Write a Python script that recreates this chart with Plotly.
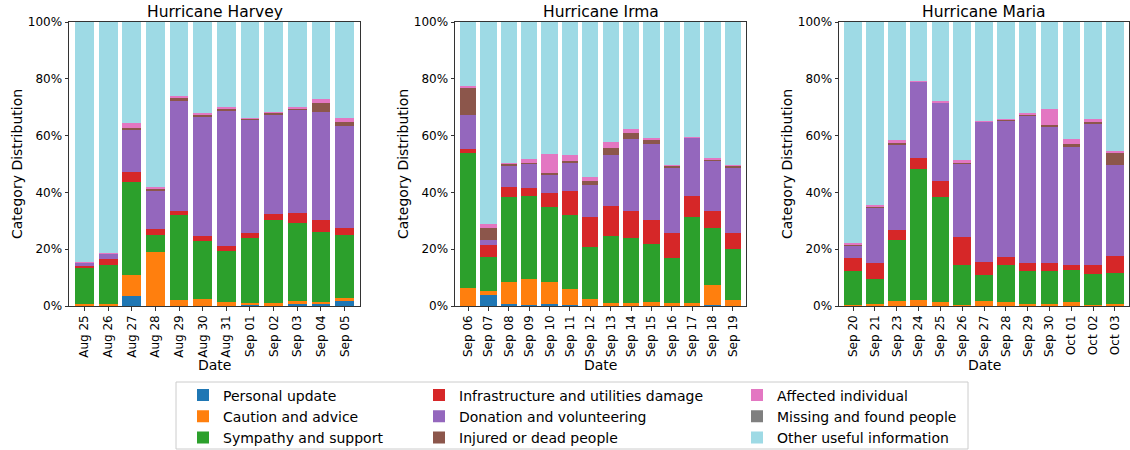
import plotly.graph_objects as go

# ---------------- data (percent of tweets per day) ----------------
categories = [
    "Personal update", "Caution and advice", "Sympathy and support",
    "Infrastructure and utilities damage", "Donation and volunteering",
    "Injured or dead people", "Affected individual",
    "Missing and found people", "Other useful information",
]
colors = ["#1f77b4", "#ff7f0e", "#2ca02c", "#d62728", "#9467bd",
          "#8c564b", "#e377c2", "#7f7f7f", "#9edae5"]

harvey_dates = ["Aug 25", "Aug 26", "Aug 27", "Aug 28", "Aug 29", "Aug 30",
                "Aug 31", "Sep 01", "Sep 02", "Sep 03", "Sep 04", "Sep 05"]
harvey_personal = [0, 0, 3.5, 0, 0, 0, 0, 0.6, 0, 0.7, 0.9, 1.6]
harvey_caution = [0.6, 0.7, 7.3, 19.0, 2.1, 2.4, 1.3, 0.5, 0.9, 0.9, 0.5, 1.1]
harvey_sympathy = [12.8, 13.6, 32.8, 6.0, 29.8, 20.6, 18.0, 22.8, 29.4, 27.5, 24.7, 22.3]
harvey_infra = [0.7, 2.2, 3.6, 2.1, 1.6, 1.6, 1.8, 1.7, 2.0, 3.6, 4.3, 2.4]
harvey_donation = [1.2, 2.0, 14.6, 13.5, 38.8, 42.1, 47.8, 39.9, 35.2, 36.4, 37.9, 35.9]
harvey_injured = [0.0, 0.1, 1.0, 0.7, 0.8, 0.8, 0.5, 0.4, 0.5, 0.5, 3.3, 1.5]
harvey_affected = [0.1, 0.2, 1.6, 0.5, 0.9, 0.6, 0.7, 0.4, 0.4, 0.5, 1.4, 1.5]
harvey_missing = [0, 0, 0, 0, 0, 0, 0, 0, 0, 0, 0, 0]
harvey_other = [84.6, 81.2, 35.6, 58.2, 26.0, 31.9, 29.9, 33.7, 31.6, 29.9, 27.0, 33.7]

irma_dates = ["Sep 06", "Sep 07", "Sep 08", "Sep 09", "Sep 10", "Sep 11", "Sep 12",
              "Sep 13", "Sep 14", "Sep 15", "Sep 16", "Sep 17", "Sep 18", "Sep 19"]
irma_personal = [0, 4.0, 0.8, 0.4, 0.6, 0.2, 0, 0, 0, 0, 0, 0, 0.2, 0]
irma_caution = [6.3, 1.4, 7.5, 9.2, 8.0, 5.9, 2.4, 0.9, 1.2, 1.3, 1.1, 1.1, 7.3, 2.1]
irma_sympathy = [47.7, 11.8, 30.0, 29.1, 26.3, 25.9, 18.5, 23.9, 22.6, 20.6, 15.9, 30.4, 19.9, 18.1]
irma_infra = [1.2, 4.3, 3.6, 3.0, 4.8, 8.6, 10.6, 10.5, 9.6, 8.4, 8.8, 7.1, 6.2, 5.5]
irma_donation = [12.1, 1.8, 7.5, 8.3, 6.6, 9.9, 11.2, 17.9, 25.4, 26.8, 22.8, 20.6, 17.6, 23.0]
irma_injured = [9.6, 4.1, 0.6, 0.5, 0.5, 0.7, 1.2, 2.3, 2.0, 1.4, 0.7, 0.0, 0.5, 0.7]
irma_affected = [0.5, 1.5, 0.5, 1.4, 6.6, 2.0, 1.5, 2.3, 1.5, 0.5, 0.2, 0.2, 0.3, 0.4]
irma_missing = [0, 0, 0, 0, 0, 0, 0, 0, 0, 0, 0, 0, 0, 0]
irma_other = [22.6, 71.1, 49.5, 48.1, 46.6, 46.8, 54.6, 42.2, 37.7, 41.0, 50.5, 40.6, 48.0, 50.2]

maria_dates = ["Sep 20", "Sep 21", "Sep 23", "Sep 24", "Sep 25", "Sep 26", "Sep 27",
               "Sep 28", "Sep 29", "Sep 30", "Oct 01", "Oct 02", "Oct 03"]
maria_personal = [0, 0, 0, 0, 0, 0, 0, 0, 0, 0, 0, 0, 0]
maria_caution = [0.5, 0.8, 1.8, 2.0, 1.5, 0.4, 1.8, 1.4, 0.8, 0.8, 1.3, 0.4, 0.6]
maria_sympathy = [11.9, 8.8, 21.3, 46.2, 36.9, 14.1, 9.2, 13.1, 11.6, 11.5, 11.4, 10.9, 11.1]
maria_infra = [4.6, 5.6, 3.8, 3.9, 5.7, 9.9, 4.6, 2.7, 2.8, 2.7, 1.6, 3.3, 6.0]
maria_donation = [4.2, 19.6, 29.8, 26.9, 27.4, 25.6, 49.3, 48.0, 51.9, 48.1, 41.7, 49.4, 31.9]
maria_injured = [0.4, 0.3, 0.7, 0.1, 0.3, 0.5, 0.1, 0.6, 0.5, 0.5, 1.1, 1.1, 4.5]
maria_affected = [0.7, 0.5, 0.9, 0.3, 0.4, 0.8, 0.1, 0.2, 0.3, 5.7, 1.7, 0.6, 0.6]
maria_missing = [0, 0, 0, 0, 0, 0, 0, 0, 0, 0, 0, 0, 0]
maria_other = [77.7, 64.4, 41.7, 20.6, 27.8, 48.7, 34.9, 34.0, 32.1, 30.7, 41.2, 34.3, 45.3]

panel_titles = ["Hurricane Harvey", "Hurricane Irma", "Hurricane Maria"]
y_ticks = [0, 20, 40, 60, 80, 100]
y_tick_labels = ["0%", "20%", "40%", "60%", "80%", "100%"]

panels = [
    (harvey_dates, [harvey_personal, harvey_caution, harvey_sympathy, harvey_infra,
                    harvey_donation, harvey_injured, harvey_affected, harvey_missing,
                    harvey_other]),
    (irma_dates, [irma_personal, irma_caution, irma_sympathy, irma_infra,
                  irma_donation, irma_injured, irma_affected, irma_missing, irma_other]),
    (maria_dates, [maria_personal, maria_caution, maria_sympathy, maria_infra,
                   maria_donation, maria_injured, maria_affected, maria_missing,
                   maria_other]),
]

# ---------------- layout geometry (pixels) ----------------
W, H = 1130, 450
panel_px = [(69, 360), (455, 746), (839, 1129)]
top_px, bot_px = 22, 306
FONT = "DejaVu Sans"

def px_x(p):
    return p / W

def px_y(p):
    return 1 - p / H

fig = go.Figure()
legend_names = ["legend", "legend", "legend", "legend2", "legend2", "legend2",
                "legend3", "legend3", "legend3"]

for pi, (dates, series) in enumerate(panels):
    ax = "" if pi == 0 else str(pi + 1)
    for ci, (name, vals) in enumerate(zip(categories, series)):
        fig.add_trace(go.Bar(
            x=dates, y=vals, name=name,
            marker=dict(color=colors[ci], line=dict(width=0)),
            xaxis="x" + ax, yaxis="y" + ax,
            legendgroup=name, showlegend=(pi == 0),
            legend=legend_names[ci],
            hovertemplate="%{x}: %{y:.1f}%<extra>" + name + "</extra>",
        ))

axis_common = dict(
    showline=True, mirror=True, linecolor="#333", linewidth=1,
    ticks="outside", ticklen=3.5, tickwidth=0.8, tickcolor="#333",
    showgrid=False, zeroline=False, automargin=False,
    tickfont=dict(family=FONT, size=12, color="black"),
)

layout = dict(
    width=W, height=H,
    margin=dict(l=0, r=0, t=0, b=0, autoexpand=False),
    paper_bgcolor="white", plot_bgcolor="white",
    barmode="stack", bargap=0.2,
    font=dict(family=FONT, color="black"),
)
annotations = []
for pi, (dates, series) in enumerate(panels):
    ax = "" if pi == 0 else str(pi + 1)
    x0, x1 = panel_px[pi]
    n = len(dates)
    layout["xaxis" + ax] = dict(
        axis_common, domain=[px_x(x0), px_x(x1)], anchor="y" + ax,
        type="category", range=[-0.65, n - 0.35], tickangle=-90,
    )
    layout["yaxis" + ax] = dict(
        axis_common, domain=[px_y(bot_px), px_y(top_px)], anchor="x" + ax,
        range=[0, 100], tickmode="array", tickvals=y_ticks, ticktext=y_tick_labels,
    )
    cx = (x0 + x1) / 2
    annotations.append(dict(
        text=panel_titles[pi], x=px_x(cx), y=px_y(12), xref="paper", yref="paper",
        xanchor="center", yanchor="middle", showarrow=False,
        font=dict(family=FONT, size=15.5, color="black"),
    ))
    annotations.append(dict(
        text="Date", x=px_x(cx), y=px_y(365), xref="paper", yref="paper",
        xanchor="center", yanchor="middle", showarrow=False,
        font=dict(family=FONT, size=14, color="black"),
    ))
    annotations.append(dict(
        text="Category Distribution", x=px_x(x0 - 52), y=px_y((top_px + bot_px) / 2),
        xref="paper", yref="paper", textangle=-90,
        xanchor="center", yanchor="middle", showarrow=False,
        font=dict(family=FONT, size=14, color="black"),
    ))
layout["annotations"] = annotations

legend_common = dict(
    orientation="v", xanchor="left", yanchor="top", y=px_y(379.5),
    bgcolor="rgba(0,0,0,0)", borderwidth=0, traceorder="normal",
    font=dict(family=FONT, size=14, color="black"), itemclick=False,
)
layout["legend"] = dict(legend_common, x=px_x(183))
layout["legend2"] = dict(legend_common, x=px_x(419))
layout["legend3"] = dict(legend_common, x=px_x(737))
layout["shapes"] = [dict(
    type="rect", xref="paper", yref="paper",
    x0=px_x(176), x1=px_x(968), y0=px_y(449), y1=px_y(382),
    line=dict(color="#cccccc", width=1), fillcolor="rgba(255,255,255,0)",
    layer="below",
)]

fig.update_layout(**layout)
fig.write_html("out.html", config={"displayModeBar": False},
               post_script="document.body.style.margin='0';")
